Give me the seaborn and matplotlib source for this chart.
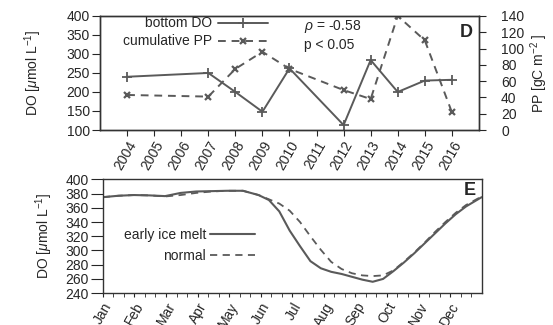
import matplotlib
matplotlib.use("Agg")
import matplotlib.pyplot as plt
import seaborn as sns
import pandas as pd

# panel D: yearly bottom DO and cumulative PP
do_years = [2004, 2007, 2008, 2009, 2010, 2012, 2013, 2014, 2015, 2016]
bottom_do = [240, 250, 200, 148, 262, 113, 284, 200, 230, 232]
pp_years = [2004, 2007, 2008, 2009, 2010, 2012, 2013, 2014, 2015, 2016]
cumulative_pp = [43, 41, 75, 96, 75, 49, 38, 140, 110, 22]
year_ticks = list(range(2004, 2017))

# panel E: seasonal DO cycle (day of year)
days = [0, 15, 30, 45, 60, 75, 90, 105, 120, 135, 150, 160, 170, 180, 190, 200,
        210, 220, 230, 240, 250, 260, 270, 280, 290, 300, 310, 320, 330, 340, 350, 365]
do_early = [375, 377, 378, 377.5, 376.5, 381, 383, 383.5, 384, 384, 378, 371, 355, 328,
            306, 285, 275, 270, 267, 263, 259, 256, 260, 271, 283, 296, 310, 324, 338,
            351, 362, 375]
do_normal = [375, 377, 378, 377.5, 376, 378, 381, 383, 384, 384, 378, 372, 366, 356,
             340, 320, 301, 284, 274, 268, 265, 264, 265, 272, 284, 297, 311, 326, 340,
             353, 364, 376]
month_names = ["Jan", "Feb", "Mar", "Apr", "May", "Jun", "Jul", "Aug", "Sep", "Oct", "Nov", "Dec"]

sns.set_style("ticks")
plt.rcParams["font.family"] = ["Liberation Sans", "DejaVu Sans"]
plt.rcParams["mathtext.fontset"] = "custom"
plt.rcParams["mathtext.rm"] = "Liberation Sans"
plt.rcParams["mathtext.it"] = "Liberation Sans:italic"
FS = 10
grey = "#5a5a5a"

fig = plt.figure(figsize=(5.53, 3.25), dpi=100)
ax1 = fig.add_axes([0.181, 0.600, 0.685, 0.351])
ax2 = ax1.twinx()

df_do = pd.DataFrame({"year": do_years, "do": bottom_do})
df_pp = pd.DataFrame({"year": pp_years, "pp": cumulative_pp})
sns.lineplot(data=df_do, x="year", y="do", ax=ax1, color=grey, lw=1.4,
             marker="+", markersize=6.5, mew=1.3, mec=grey, label="bottom DO", legend=False)
sns.lineplot(data=df_pp, x="year", y="pp", ax=ax2, color=grey, lw=1.4,
             marker="x", markersize=5, mew=1.6, mec=grey, label="cumulative PP", legend=False)
ax2.lines[0].set_dashes((4, 3))

ax1.set_xlim(2003, 2017)
ax1.set_ylim(100, 400)
ax2.set_ylim(0, 140)
ax1.set_yticks(range(100, 401, 50))
ax2.set_yticks(range(0, 141, 20))
ax1.set_xticks(year_ticks)
ax1.set_xticklabels([str(y) for y in year_ticks], rotation=60, ha="right",
                    rotation_mode="anchor", fontsize=FS)
ax1.tick_params(axis="x", length=4, pad=2)
ax1.tick_params(axis="y", labelsize=FS, length=6, pad=1.5)
ax2.tick_params(axis="y", labelsize=FS, length=5, pad=11)
ax1.set_xlabel("")
ax1.set_ylabel(r"DO [$\mu$mol L$^{-1}$]", fontsize=FS)
ax2.set_ylabel(r"PP [gC m$^{-2}$ ]", fontsize=FS)
ax1.yaxis.set_label_coords(-0.148, 0.5)
ax2.yaxis.set_label_coords(1.13, 0.5)
for ax in (ax1, ax2):
    for s in ax.spines.values():
        s.set_visible(True)
        s.set_color("#333333")
        s.set_linewidth(1.0)

h1, l1 = ax1.get_legend_handles_labels()
h2, l2 = ax2.get_legend_handles_labels()
ax1.legend(h1 + h2, l1 + l2, loc="upper right", bbox_to_anchor=(0.443, 0.995),
           frameon=False, markerfirst=False, fontsize=FS, handlelength=3.6,
           handletextpad=0.4, labelspacing=0.28, borderpad=0, borderaxespad=0)
ax1.text(2010.55, 371, r"$\rho$ = -0.58", fontsize=FS, va="center")
ax1.text(2010.55, 324, "p < 0.05", fontsize=FS, va="center")
ax1.text(0.985, 0.93, "D", transform=ax1.transAxes, fontsize=13,
         fontweight="bold", ha="right", va="top")

# panel E
ax3 = fig.add_axes([0.186, 0.098, 0.685, 0.350])
df_e = pd.DataFrame({"day": days, "early": do_early, "normal": do_normal})
sns.lineplot(data=df_e, x="day", y="early", ax=ax3, color=grey, lw=1.5,
             label="early ice melt")
sns.lineplot(data=df_e, x="day", y="normal", ax=ax3, color=grey, lw=1.3,
             label="normal")
ax3.lines[1].set_dashes((4, 3))
ax3.set_xlim(0, 365)
ax3.set_ylim(240, 400)
ax3.set_yticks(range(240, 401, 20))
month_len = 365 / 12
ax3.set_xticks([i * month_len for i in range(12)])
ax3.set_xticklabels(month_names, rotation=60, ha="right",
                    rotation_mode="anchor", fontsize=FS)
ax3.set_xticks([i * month_len + k * month_len / 3 for i in range(12) for k in (1, 2)],
               minor=True)
ax3.tick_params(axis="x", which="both", length=3)
ax3.tick_params(axis="x", pad=2)
ax3.tick_params(axis="y", labelsize=FS, length=9, pad=1)
ax3.set_xlabel("")
ax3.set_ylabel(r"DO [$\mu$mol L$^{-1}$]", fontsize=FS)
ax3.yaxis.set_label_coords(-0.127, 0.5)
for s in ax3.spines.values():
    s.set_visible(True)
    s.set_color("#333333")
    s.set_linewidth(1.0)
ax3.legend(loc="upper right", bbox_to_anchor=(0.401, 0.575), frameon=False,
           markerfirst=False, fontsize=FS, handlelength=3.2,
           handletextpad=0.3, labelspacing=0.5, borderpad=0, borderaxespad=0)
ax3.text(0.985, 0.98, "E", transform=ax3.transAxes, fontsize=13,
         fontweight="bold", ha="right", va="top")

fig.savefig("out.png", dpi=100)
